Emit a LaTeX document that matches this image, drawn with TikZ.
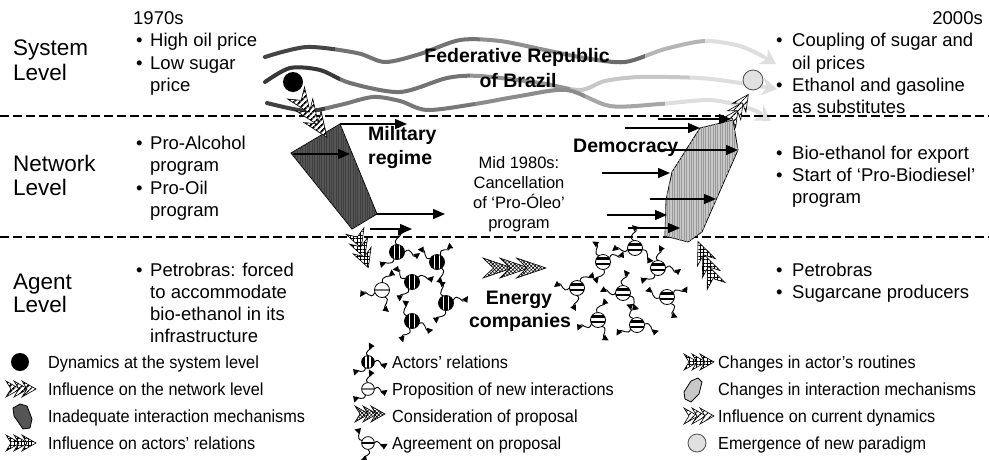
\documentclass[tikz,border=0pt]{standalone}
\usepackage{fontspec}
\setmainfont{Liberation Sans}
\newfontfamily\legendfont{Liberation Sans}[FakeStretch=0.93]
\usetikzlibrary{patterns.meta,arrows.meta}

\definecolor{darkmech}{HTML}{555555}
\definecolor{lightmech}{HTML}{C8C8C8}
\definecolor{paradigm}{HTML}{E0E0E0}

% three curly relation arrows around an actor, turned by #1 degrees
\newcommand\sproutset[1]{%
  \begin{scope}[rotate=#1]
    \draw[sprout] (7.5,0) .. controls (15,-7) and (15,7) .. (23,1);
    \draw[sprout] (0,-7.5) .. controls (-6,-12) and (5,-16) .. (1,-23);
    \draw[sprout] (-3,7) .. controls (-4,15) and (-14,9) .. (-16,16);
  \end{scope}}

\tikzset{
  lvl/.style={anchor=base west,inner sep=0pt,font=\fontsize{22.5}{27}\selectfont},
  txt/.style={anchor=base west,inner sep=0pt,font=\fontsize{18.5}{22}\selectfont},
  rtxt/.style={anchor=base east,inner sep=0pt,font=\fontsize{18.5}{22}\selectfont},
  midtxt/.style={anchor=base,inner sep=0pt,font=\fontsize{16.5}{20}\selectfont},
  bold/.style={anchor=base,inner sep=0pt,font=\bfseries\fontsize{19.5}{23}\selectfont},
  boldw/.style={anchor=base west,inner sep=0pt,font=\bfseries\fontsize{19.5}{23}\selectfont},
  leg/.style={anchor=base west,inner sep=0pt,font=\legendfont\fontsize{17.5}{21}\selectfont},
  wave/.style={line width=4pt,line cap=round},
  levelline/.style={line width=2.6pt,dash pattern=on 9pt off 4pt},
  push/.style={line width=1.3pt,-{Triangle[length=12pt,width=10pt]}},
  sprout/.style={line width=0.9pt,-{Triangle[length=6pt,width=6pt]}},
  stripefill/.style={pattern={Lines[angle=45,distance=4pt,line width=1.8pt]}},
  gridfill/.style={pattern={Hatch[angle=0,distance=3.5pt,line width=0.7pt]}},
  crossfill/.style={pattern={Hatch[angle=45,distance=2.6pt,line width=0.6pt]}},
  lightstripe/.style={pattern={Lines[angle=45,distance=4pt,line width=1.2pt]}},
  pics/chevrons/.style={code={
    \foreach \s in {0,8,16}{
      \draw[line width=0.6pt,preaction={fill=white},#1]
        (\s,-8) -- (\s+14,0) -- (\s,8) -- (\s+5,0) -- cycle;}
  }},
  pics/actorV/.style={code={
    \sproutset{#1}
    \fill (0,0) circle (7.5);
    \draw[white,line width=1.1pt] (-2.4,-6.6) -- (-2.4,6.6) (2.4,-6.6) -- (2.4,6.6);
    \draw[line width=0.8pt] (0,0) circle (7.5);
  }},
  pics/actorH/.style={code={
    \sproutset{#1}
    \fill[white] (0,0) circle (7.5);
    \begin{scope}
      \clip (0,0) circle (7.5);
      \fill (-8,-4.6) rectangle (8,-2.2);
      \fill (-8,0.6) rectangle (8,3);
    \end{scope}
    \draw[line width=0.8pt] (0,0) circle (7.5);
  }},
  pics/actorP/.style={code={
    \sproutset{#1}
    \fill[white] (0,0) circle (7.5);
    \draw[black!55,line width=1.2pt] (-7.5,0) -- (7.5,0);
    \draw[line width=0.8pt] (0,0) circle (7.5);
  }},
  pics/actorA/.style={code={
    \sproutset{#1}
    \fill[white] (0,0) circle (7.5);
    \begin{scope}
      \clip (0,0) circle (7.5);
      \fill (-8,-1.5) rectangle (8,1.5);
    \end{scope}
    \draw[line width=0.8pt] (0,0) circle (7.5);
  }},
}

\begin{document}
\begin{tikzpicture}[x=1pt,y=-1pt]
\useasboundingbox (0,0) rectangle (989,459);
\fill[white] (0,0) rectangle (989,459);

% ---------- the three strands of the system level ----------
\foreach \xa/\xb/\c in {250/335/73,335/480/55,480/600/44,600/645/58,645/705/29,705/800/13}{
  \begin{scope}
    \clip (\xa,0) rectangle (\xb,130);
    \draw[wave,draw=black!\c] plot[smooth] coordinates {(265,57) (307,47) (357,53) (385,62) (420,54) (460,40) (500,41) (545,50) (585,58) (625,62) (665,49) (705,41) (740,46) (764,57)};
  \end{scope}}
\foreach \xa/\xb/\c in {250/340/78,340/470/55,470/570/42,570/690/22,690/800/13}{
  \begin{scope}
    \clip (\xa,0) rectangle (\xb,130);
    \draw[wave,draw=black!\c] plot[smooth] coordinates {(265,82) (290,68) (320,70) (350,83) (400,92) (447,78) (480,76) (540,83) (580,90) (605,81) (640,77) (700,78) (740,83) (764,87)};
  \end{scope}}
\foreach \xa/\xb/\c in {250/325/75,325/475/53,475/585/45,585/665/35,665/800/13}{
  \begin{scope}
    \clip (\xa,0) rectangle (\xb,130);
    \draw[wave,draw=black!\c] plot[smooth] coordinates {(267,103) (307,111) (340,105) (373,97) (400,101) (427,110) (475,104) (520,96) (567,90) (610,106) (660,104) (710,100) (745,107) (760,113)};
  \end{scope}}
\coordinate (w1a) at (756,52);  \coordinate (w1b) at (776,64);
\coordinate (w2a) at (755,85);  \coordinate (w2b) at (777,89);
\coordinate (w3a) at (754,110); \coordinate (w3b) at (771,121);
\foreach \p in {1,2,3}
  \draw[line width=3pt,black!13,-{Stealth[length=15pt,width=18pt]}] (w\p a) -- (w\p b);

% ---------- level separators ----------
\coordinate (sepAw) at (0,116);   \coordinate (sepAe) at (989,116);
\coordinate (sepBw) at (0,237);   \coordinate (sepBe) at (989,237);
\draw[levelline] (sepAw) -- (sepAe);
\draw[levelline] (sepBw) -- (sepBe);

% ---------- level names ----------
\node[lvl] (sysA) at (13,55) {System};
\node[lvl] (sysB) at (13,80) {Level};
\node[lvl] (netA) at (13,171) {Network};
\node[lvl] (netB) at (13,195) {Level};
\node[lvl] (agtA) at (13,289) {Agent};
\node[lvl] (agtB) at (13,312) {Level};

% ---------- 1970s column ----------
\node[txt] (y70) at (133,24.5) {1970s};
\node[txt] (b1) at (136,46.5) {•};  \node[txt] (t1) at (150,46.5) {High oil price};
\node[txt] (b2) at (136,69.5) {•};  \node[txt] (t2) at (150,69.5) {Low sugar};
\node[txt] (t2b) at (150,91.5) {price};
\node[txt] (b3) at (136,149.5) {•}; \node[txt] (t3) at (150,149.5) {Pro-Alcohol};
\node[txt] (t3b) at (150,171.5) {program};
\node[txt] (b4) at (136,194.5) {•}; \node[txt] (t4) at (150,194.5) {Pro-Oil};
\node[txt] (t4b) at (150,216.5) {program};
\node[txt] (b5) at (136,276.5) {•}; \node[txt] (t5) at (150,276.5) {Petrobras: forced};
\node[txt] (t5b) at (150,298.5) {to accommodate};
\node[txt] (t5c) at (150,320.5) {bio-ethanol in its};
\node[txt] (t5d) at (150,342.5) {infrastructure};

% ---------- 2000s column ----------
\node[rtxt] (y00) at (983,24.5) {2000s};
\node[txt] (r1) at (776,46.5) {•};  \node[txt] (s1) at (792,46.5) {Coupling of sugar and};
\node[txt] (s1b) at (792,69.5) {oil prices};
\node[txt] (r2) at (776,91.5) {•};  \node[txt] (s2) at (792,91.5) {Ethanol and gasoline};
\node[txt] (s2b) at (792,113.5) {as substitutes};
\node[txt] (r3) at (776,159.5) {•}; \node[txt] (s3) at (792,159.5) {Bio-ethanol for export};
\node[txt] (r4) at (776,181.5) {•}; \node[txt] (s4) at (792,181.5) {Start of ‘Pro-Biodiesel’};
\node[txt] (s4b) at (792,203.5) {program};
\node[txt] (r5) at (776,276.5) {•}; \node[txt] (s5) at (792,276.5) {Petrobras};
\node[txt] (r6) at (776,298.5) {•}; \node[txt] (s6) at (792,298.5) {Sugarcane producers};

% ---------- system-level markers ----------
\fill (293,82) circle (10);
\coordinate (sysdot) at (293,82);
\draw[draw=black!70,fill=paradigm,line width=0.8pt] (753,80) circle (10);
\coordinate (newpar) at (753,80);

% ---------- military regime: interaction mechanisms ----------
\coordinate (m1) at (291,153); \coordinate (m2) at (340,124);
\coordinate (m3) at (377,214); \coordinate (m4) at (352,229);
\draw[line width=0.8pt,fill=darkmech,postaction={pattern={Lines[angle=90,distance=2.4pt,line width=0.5pt]},pattern color=black!75}]
  (m1) -- (m2) -- (m3) -- (m4) -- cycle;
\pic[rotate=-55,xscale=1.8,yscale=1.3] (netpush) at (296,93) {chevrons=stripefill};
\pic[rotate=-70,xscale=1.3,yscale=1.2] (actpush) at (355,231) {chevrons=gridfill};
\coordinate (mp1) at (407,124);
\coordinate (ms2) at (293,154); \coordinate (mp2) at (350,154);
\coordinate (mp3) at (445,214);
\coordinate (ms4) at (370,229); \coordinate (mp4) at (412,229);
\draw[push] (m2) -- (mp1);
\draw[push] (ms2) -- (mp2);
\draw[push] (m3) -- (mp3);
\draw[push] (ms4) -- (mp4);
\node[boldw] (mil1) at (368,140) {Military};
\node[boldw] (mil2) at (368,164) {regime};

% ---------- democracy: new interaction mechanisms ----------
\coordinate (d1) at (700,128); \coordinate (d2) at (733,120); \coordinate (d3) at (738,150);
\coordinate (d4) at (702,232); \coordinate (d5) at (688,242); \coordinate (d6) at (665,236);
\coordinate (d7) at (666,200); \coordinate (d8) at (672,172);
\draw[line width=0.8pt,fill=lightmech,postaction={pattern={Lines[angle=90,distance=2.4pt,line width=0.4pt]},pattern color=black!40}]
  (d1) -- (d2) -- (d3) -- (d4) -- (d5) -- (d6) -- (d7) -- (d8) -- cycle;
\pic[rotate=56,xscale=1.15] (curpush) at (729,123) {chevrons=lightstripe};
\pic[rotate=112,xscale=1.6,yscale=1.2] (routpush) at (716,286) {chevrons=gridfill};
\node[boldw] (demo) at (573,152) {Democracy};
\coordinate (ds1) at (658,119); \coordinate (de1) at (731,119);
\coordinate (ds2) at (625,128);
\coordinate (ds3) at (660,150);
\coordinate (ds4) at (602,173); \coordinate (de4) at (670,173);
\coordinate (ds5) at (650,199); \coordinate (de5) at (716,199);
\coordinate (ds6) at (607,215); \coordinate (de6) at (667,215);
\coordinate (ds7) at (628,228); \coordinate (de7) at (680,228);
\draw[push] (ds1) -- (de1);
\draw[push] (ds2) -- (d1);
\draw[push] (ds3) -- (d3);
\draw[push] (ds4) -- (de4);
\draw[push] (ds5) -- (de5);
\draw[push] (ds6) -- (de6);
\draw[push] (ds7) -- (de7);

% ---------- centre texts ----------
\node[bold] (fed1) at (517,62) {Federative Republic};
\node[bold] (fed2) at (518,87) {of Brazil};
\node[midtxt] (mid1) at (519,168) {Mid 1980s:};
\node[midtxt] (mid2) at (519,188) {Cancellation};
\node[midtxt] (mid3) at (519,208) {of ‘Pro-Óleo’};
\node[midtxt] (mid4) at (519,228) {program};
\node[bold] (en1) at (519,304) {Energy};
\node[bold] (en2) at (520,327) {companies};
\pic[xscale=2.1,yscale=1.25] (consider) at (483,268) {chevrons=crossfill};

% ---------- energy companies as actors ----------
\pic (a1) at (397,252) {actorV=0};
\pic (a2) at (437,262) {actorV=60};
\pic (a3) at (412,282) {actorV=150};
\pic (a4) at (382,290) {actorP=200};
\pic (a5) at (446,303) {actorV=20};
\pic (a6) at (412,321) {actorV=250};
\pic (c1) at (603,262) {actorH=30};
\pic (c2) at (635,248) {actorH=100};
\pic (c3) at (658,268) {actorH=0};
\pic (c4) at (577,288) {actorH=180};
\pic (c5) at (623,293) {actorH=90};
\pic (c6) at (667,297) {actorH=300};
\pic (c7) at (598,320) {actorH=210};
\pic (c8) at (637,325) {actorH=120};

% ---------- legend ----------
\fill (20,362) circle (9);
\coordinate (k1) at (20,362);
\pic (k2) at (6,389) {chevrons=stripefill};
\draw[line width=0.8pt,fill=darkmech] (13,408) -- (20,404) -- (27,406) -- (32,419) -- (30,428) -- (23,429) -- (14,416) -- cycle;
\pic (k4) at (6,443) {chevrons=gridfill};
\node[leg] (l1) at (48,368) {Dynamics at the system level};
\node[leg] (l2) at (48,395) {Influence on the network level};
\node[leg] (l3) at (48,422) {Inadequate interaction mechanisms};
\node[leg] (l4) at (48,449) {Influence on actors’ relations};

\pic[scale=0.85] (k5) at (368,362) {actorV=0};
\pic[scale=0.85] (k6) at (368,389) {actorP=0};
\pic (k7) at (355,414) {chevrons=crossfill};
\pic[scale=0.85] (k8) at (368,443) {actorA=-90};
\node[leg] (l5) at (392,368) {Actors’ relations};
\node[leg] (l6) at (392,395) {Proposition of new interactions};
\node[leg] (l7) at (392,422) {Consideration of proposal};
\node[leg] (l8) at (392,449) {Agreement on proposal};

\pic (k9) at (684,362) {chevrons=gridfill};
\draw[line width=0.8pt,fill=lightmech] (685,399) -- (684,392) -- (691,381) -- (698,378) -- (702,382) -- (699,394) -- (691,402) -- cycle;
\pic (k11) at (684,416) {chevrons=lightstripe};
\draw[draw=black!70,fill=paradigm,line width=0.8pt] (697,443) circle (9);
\node[leg] (l9) at (718,368) {Changes in actor’s routines};
\node[leg] (l10) at (718,395) {Changes in interaction mechanisms};
\node[leg] (l11) at (718,422) {Influence on current dynamics};
\node[leg] (l12) at (718,449) {Emergence of new paradigm};
\end{tikzpicture}
\end{document}
